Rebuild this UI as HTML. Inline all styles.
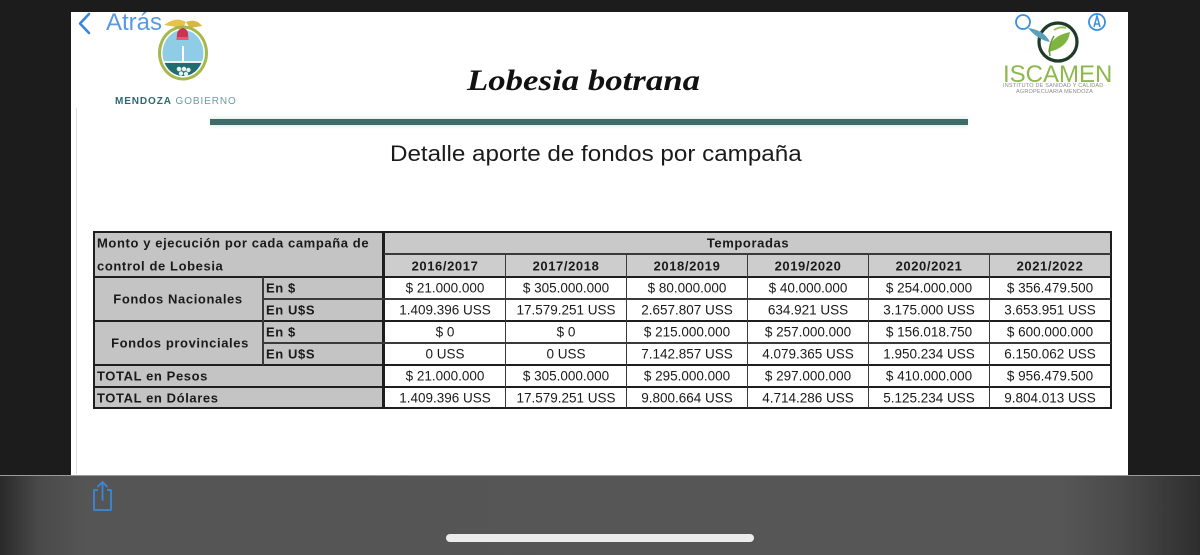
<!DOCTYPE html>
<html><head><meta charset="utf-8">
<style>
html,body{margin:0;padding:0;}
body{width:1200px;height:554px;position:relative;overflow:hidden;background:#1c1c1d;font-family:"Liberation Sans",sans-serif;}
.abs{position:absolute;}
#page{left:71px;top:12px;width:1057px;height:463px;background:#fff;}
#bar{left:0;top:475px;width:1200px;height:79px;background:linear-gradient(to right,#2a2a2a 0px,#4a4a4a 40px,#555 85px,#565656 1060px,#4a4a4a 1120px,#2e2e2e 1200px);border-top:1px solid #9a9a9a;}
.t{position:absolute;white-space:nowrap;color:#1a1a1a;line-height:1;}
.c{transform:translate(-50%,-50%);}
.l{transform:translateY(-50%);}
.d{font-size:13.5px;}
.b{font-weight:bold;font-size:13px;letter-spacing:0.6px;}
.g{position:absolute;background:#c3c3c3;}
.ln{position:absolute;background:#1e1e1e;}
.ls{position:absolute;background:#3a3a3a;}
</style></head><body>
<div id="page" class="abs"></div>
<!-- faint left line -->
<div class="abs" style="left:76px;top:108px;width:1px;height:366px;background:#dcdcdc;"></div>

<!-- iOS back -->
<svg class="abs" style="left:74px;top:10px" width="22" height="28"><polyline points="15,4 6,13.5 15,23" fill="none" stroke="#3b86d8" stroke-width="2.6" stroke-linecap="round" stroke-linejoin="round"/></svg>

<!-- Mendoza logo -->
<svg class="abs" style="left:150px;top:16px" width="70" height="72">
  <path d="M14,9 Q26,0 36,6 L33,12 Z" fill="#e6c24a"/>
  <path d="M36,6 Q46,2 52,10 L40,12 Z" fill="#d9b63f"/>
  <ellipse cx="33" cy="37" rx="25" ry="27.5" fill="#a4b94c"/>
  <ellipse cx="33" cy="37" rx="22" ry="24.5" fill="#fff"/>
  <clipPath id="cp"><ellipse cx="33" cy="37" rx="20.5" ry="23"/></clipPath>
  <g clip-path="url(#cp)">
    <rect x="0" y="0" width="70" height="46" fill="#8fcde6"/>
    <rect x="0" y="46" width="70" height="30" fill="#1f6d70"/>
    <rect x="0" y="45" width="70" height="2" fill="#e9f2ee"/>
  </g>
  <rect x="32" y="30" width="2" height="16" fill="#fff"/>
  <path d="M27,22 Q26,13 33,12 Q39,13 38,22 Z" fill="#c93452"/>
  <rect x="26.5" y="21" width="12" height="3" fill="#e05a72"/>
  <circle cx="29" cy="53" r="2.3" fill="#e8f0ee"/><circle cx="34" cy="53" r="2.3" fill="#e8f0ee"/><circle cx="38.5" cy="54" r="2.2" fill="#e8f0ee"/>
  <circle cx="31" cy="57.5" r="2.2" fill="#e8f0ee"/><circle cx="36" cy="58" r="2.2" fill="#e8f0ee"/>
</svg>
<div class="t" style="left:115px;top:97px;font-size:10px;letter-spacing:0.9px;"><b style="color:#2c6a70;">MENDOZA</b><span style="color:#6a9ca2;"> GOBIERNO</span></div>
<div class="t" style="left:106px;top:11px;font-size:24px;color:#4a8fdc;opacity:0.9;">Atrás</div>

<!-- ISCAMEN logo -->
<svg class="abs" style="left:1010px;top:8px" width="110" height="58">
  <circle cx="48" cy="34" r="19" fill="none" stroke="#1f3a26" stroke-width="3.2"/>
  <path d="M18,20 Q34,22 40,34 Q28,32 18,20 Z" fill="#5aa0b8"/>
  <path d="M38,44 Q40,28 60,24 Q58,40 38,44 Z" fill="#7fb43f"/>
  <path d="M44,22 Q50,18 56,20" fill="none" stroke="#9cc35a" stroke-width="2"/>
  <path d="M40,48 Q38,38 44,28" fill="none" stroke="#6a9a3a" stroke-width="1.5"/>
  <circle cx="13" cy="14" r="7" fill="none" stroke="#3b8ee0" stroke-width="1.8"/>
  <circle cx="87" cy="14" r="8" fill="none" stroke="#3b8ee0" stroke-width="1.8"/>
  <path d="M84,19 L87,8 L90,19 M85,16 L89,16" fill="none" stroke="#3b8ee0" stroke-width="1.5"/>
</svg>
<div class="t" style="left:1003px;top:63px;font-size:24px;color:#8cb84c;">ISCAMEN</div>
<div class="t" style="left:1003px;top:84px;font-size:5.5px;color:#8a8a8a;letter-spacing:0.2px;">INSTITUTO DE SANIDAD Y CALIDAD</div>
<div class="t" style="left:1016px;top:90px;font-size:5.5px;color:#8a8a8a;letter-spacing:0.2px;">AGROPECUARIA MENDOZA</div>

<!-- title -->
<div class="t" style="left:467px;top:66px;font-family:'Liberation Serif',serif;font-weight:bold;font-style:italic;font-size:30px;color:#111;transform:scaleX(1.16);transform-origin:left top;">Lobesia botrana</div>
<div class="abs" style="left:210px;top:119px;width:758px;height:6px;background:#3e6b66;box-shadow:0 -2px 3px #e6efee,0 2px 3px #e6efee;"></div>
<div class="t" style="left:390px;top:143px;font-size:22px;color:#1a1a1a;transform:scaleX(1.1);transform-origin:left top;">Detalle aporte de fondos por campaña</div>

<!-- table backgrounds -->
<div class="g" style="left:94px;top:232px;width:290px;height:177px;background:#c4c4c4;"></div>
<div class="g" style="left:384px;top:232px;width:727px;height:22px;background:#c9c9c9;"></div>
<div class="g" style="left:384px;top:254px;width:727px;height:23px;background:#cdcdcd;"></div>

<!-- lines -->
<div class="ln" style="left:93px;top:231px;width:1019px;height:2px;"></div>
<div class="ln" style="left:93px;top:407px;width:1019px;height:2px;"></div>
<div class="ln" style="left:93px;top:231px;width:2px;height:178px;"></div>
<div class="ln" style="left:1110px;top:231px;width:2px;height:178px;"></div>
<div class="ln" style="left:382px;top:231px;width:3px;height:178px;"></div>
<div class="ls" style="left:384px;top:253px;width:727px;height:1.5px;"></div>
<div class="ln" style="left:93px;top:276px;width:1019px;height:2px;"></div>
<div class="ls" style="left:263px;top:298px;width:848px;height:1.5px;"></div>
<div class="ln" style="left:93px;top:320px;width:1019px;height:2px;"></div>
<div class="ls" style="left:263px;top:342px;width:848px;height:1.5px;"></div>
<div class="ln" style="left:93px;top:364px;width:1019px;height:2px;"></div>
<div class="ln" style="left:93px;top:386px;width:1019px;height:2px;"></div>
<div class="ls" style="left:262px;top:277px;width:1.5px;height:88px;"></div>
<div class="ls" style="left:505px;top:254px;width:1.2px;height:154px;"></div>
<div class="ls" style="left:626px;top:254px;width:1.2px;height:154px;"></div>
<div class="ls" style="left:747px;top:254px;width:1.2px;height:154px;"></div>
<div class="ls" style="left:868px;top:254px;width:1.2px;height:154px;"></div>
<div class="ls" style="left:989px;top:254px;width:1.2px;height:154px;"></div>

<!-- left header text -->
<div class="t b l" style="left:97px;top:243px;">Monto y ejecución por cada campaña de</div>
<div class="t b l" style="left:97px;top:266px;">control de Lobesia</div>
<div class="t b c" style="left:178px;top:299px;">Fondos Nacionales</div>
<div class="t b c" style="left:180px;top:343px;">Fondos provinciales</div>
<div class="t b l" style="left:266px;top:288px;">En $</div>
<div class="t b l" style="left:266px;top:310px;">En U$S</div>
<div class="t b l" style="left:266px;top:332px;">En $</div>
<div class="t b l" style="left:266px;top:354px;">En U$S</div>
<div class="t b l" style="left:97px;top:376px;">TOTAL en Pesos</div>
<div class="t b l" style="left:97px;top:398px;">TOTAL en Dólares</div>

<div class="t b c" style="left:748px;top:243px;">Temporadas</div>
<div class="t b c" style="left:445px;top:266px;">2016/2017</div>
<div class="t b c" style="left:566px;top:266px;">2017/2018</div>
<div class="t b c" style="left:687px;top:266px;">2018/2019</div>
<div class="t b c" style="left:808px;top:266px;">2019/2020</div>
<div class="t b c" style="left:929px;top:266px;">2020/2021</div>
<div class="t b c" style="left:1050px;top:266px;">2021/2022</div>

<!-- data -->
<div class="t d c" style="left:445px;top:288px;">$ 21.000.000</div>
<div class="t d c" style="left:566px;top:288px;">$ 305.000.000</div>
<div class="t d c" style="left:687px;top:288px;">$ 80.000.000</div>
<div class="t d c" style="left:808px;top:288px;">$ 40.000.000</div>
<div class="t d c" style="left:929px;top:288px;">$ 254.000.000</div>
<div class="t d c" style="left:1050px;top:288px;">$ 356.479.500</div>

<div class="t d c" style="left:445px;top:310px;">1.409.396 USS</div>
<div class="t d c" style="left:566px;top:310px;">17.579.251 USS</div>
<div class="t d c" style="left:687px;top:310px;">2.657.807 USS</div>
<div class="t d c" style="left:808px;top:310px;">634.921 USS</div>
<div class="t d c" style="left:929px;top:310px;">3.175.000 USS</div>
<div class="t d c" style="left:1050px;top:310px;">3.653.951 USS</div>

<div class="t d c" style="left:445px;top:332px;">$ 0</div>
<div class="t d c" style="left:566px;top:332px;">$ 0</div>
<div class="t d c" style="left:687px;top:332px;">$ 215.000.000</div>
<div class="t d c" style="left:808px;top:332px;">$ 257.000.000</div>
<div class="t d c" style="left:929px;top:332px;">$ 156.018.750</div>
<div class="t d c" style="left:1050px;top:332px;">$ 600.000.000</div>

<div class="t d c" style="left:445px;top:354px;">0 USS</div>
<div class="t d c" style="left:566px;top:354px;">0 USS</div>
<div class="t d c" style="left:687px;top:354px;">7.142.857 USS</div>
<div class="t d c" style="left:808px;top:354px;">4.079.365 USS</div>
<div class="t d c" style="left:929px;top:354px;">1.950.234 USS</div>
<div class="t d c" style="left:1050px;top:354px;">6.150.062 USS</div>

<div class="t d c" style="left:445px;top:376px;">$ 21.000.000</div>
<div class="t d c" style="left:566px;top:376px;">$ 305.000.000</div>
<div class="t d c" style="left:687px;top:376px;">$ 295.000.000</div>
<div class="t d c" style="left:808px;top:376px;">$ 297.000.000</div>
<div class="t d c" style="left:929px;top:376px;">$ 410.000.000</div>
<div class="t d c" style="left:1050px;top:376px;">$ 956.479.500</div>

<div class="t d c" style="left:445px;top:398px;">1.409.396 USS</div>
<div class="t d c" style="left:566px;top:398px;">17.579.251 USS</div>
<div class="t d c" style="left:687px;top:398px;">9.800.664 USS</div>
<div class="t d c" style="left:808px;top:398px;">4.714.286 USS</div>
<div class="t d c" style="left:929px;top:398px;">5.125.234 USS</div>
<div class="t d c" style="left:1050px;top:398px;">9.804.013 USS</div>

<!-- bottom bar -->
<div id="bar" class="abs"></div>
<svg class="abs" style="left:88px;top:479px" width="30" height="36">
  <path d="M10,11 L6,11 L6,31 L23,31 L23,11 L19,11" fill="none" stroke="#3b88d8" stroke-width="1.8" stroke-linejoin="round"/>
  <path d="M14.5,21 L14.5,3 M10,7.5 L14.5,3 L19,7.5" fill="none" stroke="#3b88d8" stroke-width="1.8" stroke-linecap="round" stroke-linejoin="round"/>
</svg>
<div class="abs" style="left:446px;top:534px;width:308px;height:8px;border-radius:4px;background:#ececec;"></div>
</body></html>
